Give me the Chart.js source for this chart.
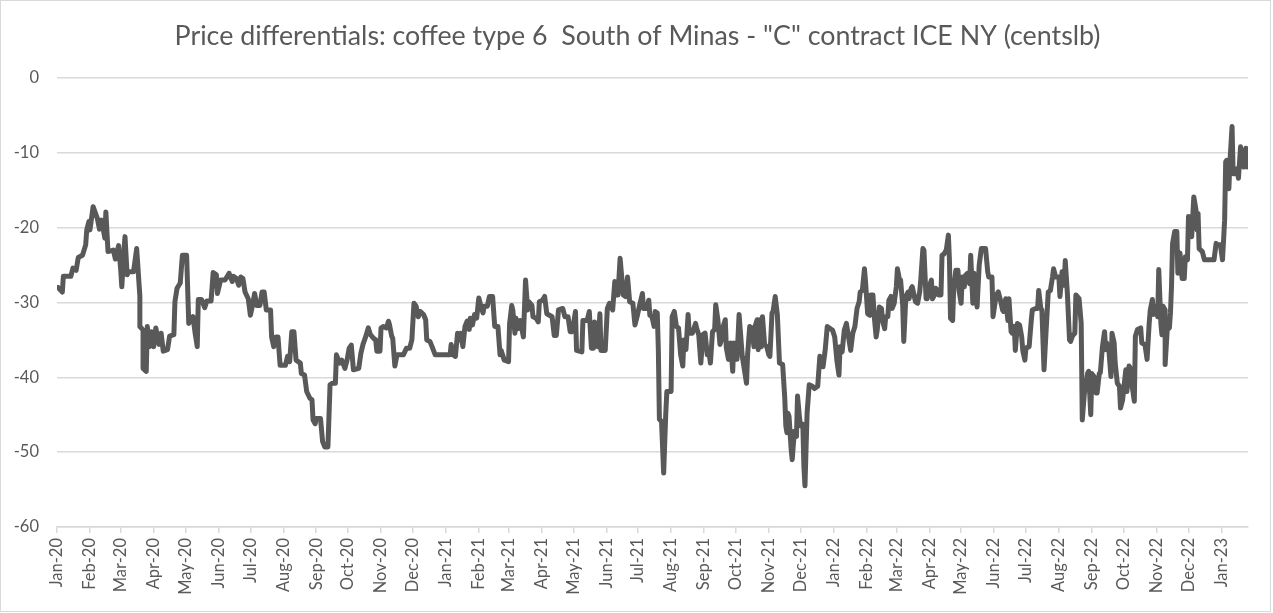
<!DOCTYPE html>
<html><head><meta charset="utf-8">
<script src="https://cdn.jsdelivr.net/npm/chart.js@4/dist/chart.umd.min.js"></script>
<style>
html,body{margin:0;padding:0;background:#fff;}
#wrap{position:absolute;left:0;top:0;width:1269px;height:610px;border:1px solid #d9d9d9;background:#fff;}
</style></head><body>
<div id="wrap"><canvas id="c"></canvas></div>
<script>
const titleText = 'Price differentials: coffee type 6  South of Minas - "C" contract ICE NY (centslb)';
const startDate = Date.UTC(2020, 0, 1);
// day offsets since 1 Jan 2020
const days = [
1,5,6,13,15,18,20,24,27,28,30,31,34,38,40,42,45,46,48,53,55,58,60,61,63,64,66,67,72,75,78,78,81,81,84,85,87,89,91,93,96,98,100,104,106,110,111,113,116,118,122,124,128,130,132,133,136,139,141,145,147,150,151,154,
158,160,162,165,166,169,171,173,175,177,180,182,184,186,188,191,193,195,197,201,202,204,206,208,210,215,217,219,221,223,225,229,230,233,235,238,240,241,243,244,248,250,252,255,257,259,262,263,266,268,271,273,275,277,279,
284,286,288,290,293,295,298,300,301,304,305,307,310,312,313,315,316,318,320,326,329,332,334,336,338,340,342,345,347,348,351,353,356,370,371,373,375,377,379,380,382,384,386,388,389,391,393,395,397,399,401,402,405,407,410,412,415,417,
418,421,425,426,428,429,431,432,434,436,439,441,443,444,447,448,451,453,454,457,459,461,466,468,470,472,476,478,481,483,485,488,489,494,495,499,501,503,505,506,508,509,511,512,516,518,520,523,525,526,528,530,533,535,537,539,542,544,546,548,551,552,555,557,558,
560,562,563,565,566,567,569,571,573,574,578,579,581,583,585,587,589,590,592,594,595,598,601,602,604,606,608,610,612,614,615,617,619,620,622,624,625,627,629,630,632,634,636,637,639,640,642,645,646,649,650,652,654,656,657,659,660,661,663,664,666,668,670,671,673,674,676,678,680,683,685,686,687,688,689,691,692,694,696,697,699,700,702,703,704,706,708,
711,713,716,718,720,721,723,725,730,732,734,736,737,739,741,743,744,746,747,749,751,753,755,756,758,760,761,763,765,766,768,769,771,772,774,776,777,779,780,782,783,785,786,788,790,791,793,794,796,797,799,801,802,804,805,808,810,812,813,815,816,818,819,821,823,824,826,827,829,830,832,833,835,837,839,840,841,
843,844,846,848,849,851,852,854,855,857,859,860,862,863,865,866,868,870,874,876,877,880,881,884,886,888,890,891,893,895,896,898,899,901,902,904,906,908,909,911,912,915,917,918,921,923,924,926,927,929,931,933,935,937,938,940,943,944,946,948,949,951,953,954,956,958,959,962,964,965,967,968,970,971,973,974,976,978,979,981,
982,984,986,987,988,990,992,993,995,996,998,1000,1001,1003,1004,1006,1007,1009,1011,1012,1014,1015,1017,1020,1021,1024,1026,1028,1029,1031,1032,1034,1036,1037,1039,1040,1041,1043,1043,1045,1047,1048,1049,1050,1052,1054,1055,1057,1059,1061,1062,1064,1065,1066,1068,1069,1070,1072,1073,1074,1075,1078,1080,1089,1091,1092,1095,1097,1099,1100,1101,1103,1104,1106,1107,1109,1111,1112,1114,1116,1117,1119,1120
];
// price differential, US cents per lb
const values = [
-28.0,-28.6,-26.5,-26.5,-25.4,-25.7,-24.0,-23.7,-22.3,-20.3,-19.2,-20.3,-17.2,-18.8,-20.2,-19.0,-21.4,-17.9,-23.2,-23.0,-24.2,-22.4,-25.7,-27.9,-23.1,-21.2,-26.3,-25.9,-25.9,-22.8,-29.2,-33.2,-33.7,-38.8,-39.2,-33.2,-35.9,-33.9,-35.9,-33.4,-35.6,-34.1,-36.5,-36.3,-34.5,-34.3,-29.9,-28.1,-27.4,-23.7,-23.7,-32.8,-31.9,-34.1,-35.9,-29.6,-29.6,-30.7,-29.8,-29.8,-26.0,-26.3,-28.8,-27.0,
-27.0,-26.6,-26.1,-27.2,-26.5,-26.8,-27.7,-26.6,-26.8,-28.6,-29.5,-31.7,-30.4,-28.8,-30.4,-30.4,-28.6,-28.6,-31.0,-31.0,-34.6,-35.9,-34.6,-34.6,-38.4,-38.4,-37.2,-37.9,-33.9,-33.9,-37.7,-38.1,-39.5,-39.7,-41.9,-42.8,-43.0,-45.7,-46.2,-45.5,-45.5,-48.6,-49.3,-49.3,-41.0,-40.8,-40.8,-37.0,-38.1,-37.7,-38.8,-37.7,-36.1,-35.7,-39.0,
-38.8,-36.8,-35.6,-34.8,-33.4,-34.3,-34.8,-35.0,-36.5,-36.5,-33.4,-33.2,-33.4,-32.5,-33.0,-34.5,-34.8,-38.5,-37.0,-37.0,-36.1,-36.1,-35.0,-30.1,-30.5,-31.9,-31.2,-31.6,-32.3,-35.0,-35.2,-35.9,-37.0,-37.0,-35.6,-37.0,-37.2,-34.1,-35.0,-34.1,-35.9,-33.2,-32.5,-33.6,-32.1,-33.0,-31.6,-32.1,-29.4,-30.5,-31.4,-30.5,-30.5,-29.2,-29.2,-33.2,-33.2,-37.0,
-36.4,-37.7,-37.9,-32.8,-30.4,-31.0,-34.1,-32.1,-33.5,-32.4,-34.6,-27.0,-31.0,-29.9,-30.4,-31.9,-32.1,-32.6,-29.9,-29.7,-29.2,-31.5,-31.9,-34.4,-34.4,-31.0,-30.8,-31.9,-31.9,-33.9,-33.9,-31.2,-36.4,-36.6,-32.4,-32.4,-31.2,-36.1,-36.1,-32.6,-33.5,-35.9,-31.5,-36.4,-36.4,-30.8,-30.1,-31.0,-27.2,-29.0,-29.0,-24.1,-29.0,-29.2,-26.6,-29.9,-30.1,-33.0,-31.9,-30.6,-28.8,-30.8,-30.8,-29.7,-31.7,
-31.9,-33.2,-31.2,-31.4,-36.3,-45.6,-45.9,-52.8,-44.8,-41.9,-41.9,-31.9,-31.2,-33.2,-33.4,-37.0,-38.5,-35.0,-36.3,-31.6,-34.1,-34.1,-32.8,-33.4,-34.3,-38.1,-34.3,-34.1,-37.0,-37.0,-38.1,-33.9,-33.6,-30.3,-32.3,-35.6,-35.2,-33.2,-32.3,-36.1,-37.6,-35.4,-39.2,-35.4,-37.6,-37.6,-31.6,-37.2,-38.1,-40.8,-37.0,-33.2,-33.4,-35.9,-33.2,-32.3,-36.3,-32.3,-35.9,-31.9,-35.6,-35.9,-37.0,-37.2,-31.4,-31.2,-29.2,-31.6,-38.1,-38.3,-42.8,-46.5,-47.4,-44.8,-45.2,-49.6,-51.0,-47.2,-47.9,-42.5,-45.6,-46.5,-46.3,-51.9,-54.5,-44.8,-41.0,
-41.2,-41.5,-41.2,-37.2,-37.7,-38.6,-36.4,-33.2,-33.7,-34.6,-37.7,-39.7,-35.9,-36.6,-33.7,-32.8,-33.7,-35.5,-36.4,-34.1,-33.2,-30.8,-29.9,-28.6,-28.4,-25.5,-27.2,-31.5,-31.7,-29.0,-29.0,-31.5,-34.6,-33.7,-30.6,-30.8,-32.4,-33.5,-31.9,-31.9,-29.7,-29.2,-30.8,-30.1,-27.9,-25.5,-27.0,-27.0,-30.4,-35.2,-29.2,-28.6,-29.5,-28.1,-27.9,-29.9,-30.1,-28.6,-27.0,-22.8,-23.0,-29.5,-29.5,-27.9,-27.0,-29.5,-29.0,-28.1,-28.4,-29.0,-29.0,-23.7,-23.5,-23.0,-21.0,-24.4,-32.1,
-32.4,-28.1,-25.7,-25.7,-28.4,-30.1,-26.6,-27.9,-26.4,-26.1,-27.5,-23.7,-30.1,-26.1,-28.8,-30.6,-25.0,-22.8,-22.8,-25.9,-26.6,-26.6,-31.9,-29.0,-28.6,-29.7,-31.0,-31.2,-29.5,-32.4,-29.5,-33.9,-34.1,-33.2,-36.4,-32.8,-33.0,-34.6,-36.4,-37.7,-36.1,-35.9,-32.4,-31.0,-30.8,-30.8,-28.4,-30.8,-31.0,-39.0,-33.7,-28.6,-28.4,-26.6,-25.5,-26.6,-26.6,-29.2,-25.9,-27.7,-24.4,-28.8,-35.0,-35.2,-34.4,-34.1,-29.0,-29.5,-32.8,-45.7,-42.1,-41.5,-39.5,-39.2,-45.0,-39.5,-39.9,-42.1,-42.1,-39.5,
-39.4,-35.9,-33.9,-36.3,-35.4,-36.3,-39.9,-34.1,-35.4,-38.1,-40.8,-41.2,-44.1,-43.0,-41.6,-39.0,-41.9,-38.5,-39.0,-41.2,-43.2,-34.5,-33.6,-33.4,-35.4,-35.6,-37.6,-32.8,-31.0,-29.6,-31.6,-30.5,-31.9,-25.6,-32.8,-34.3,-30.5,-31.0,-38.3,-33.6,-33.4,-31.4,-27.9,-22.1,-20.5,-20.5,-26.1,-23.4,-26.8,-26.8,-23.9,-24.3,-18.5,-20.3,-21.2,-18.5,-15.9,-17.6,-20.3,-18.1,-22.8,-23.2,-24.3,-24.3,-22.1,-22.3,-22.3,-24.3,-19.0,-11.2,-11.0,-14.8,-11.2,-6.5,-12.8,-12.8,-12.1,-13.4,-9.2,-11.4,-11.9,-9.4,-11.9
];
const tickLabels = [
'Jan-20','Feb-20','Mar-20','Apr-20','May-20','Jun-20','Jul-20','Aug-20','Sep-20','Oct-20','Nov-20','Dec-20',
'Jan-21','Feb-21','Mar-21','Apr-21','May-21','Jun-21','Jul-21','Aug-21','Sep-21','Oct-21','Nov-21','Dec-21',
'Jan-22','Feb-22','Mar-22','Apr-22','May-22','Jun-22','Jul-22','Aug-22','Sep-22','Oct-22','Nov-22','Dec-22',
'Jan-23'
];
const yMin = -60, yMax = 0, yStep = 10;
const xMaxDay = 1121;

const monthDays = tickLabels.map((_, i) =>
  (Date.UTC(2020 + Math.floor(i / 12), i % 12, 1) - startDate) / 86400000);

const grey = '#595959';
const gridGrey = '#d9d9d9';
const fontFam = 'Lato, "Open Sans", sans-serif';

new Chart(document.getElementById('c'), {
  type: 'line',
  data: {
    datasets: [{
      data: days.map((d, i) => ({ x: d, y: values[i] })),
      borderColor: grey,
      borderWidth: 5,
      pointRadius: 0,
      tension: 0,
      fill: false,
      borderJoinStyle: 'round',
      borderCapStyle: 'round'
    }]
  },
  options: {
    responsive: true,
    maintainAspectRatio: false,
    animation: false,
    layout: { padding: { left: 4, right: 0, top: 0, bottom: 0 } },
    plugins: {
      legend: { display: false },
      tooltip: { enabled: false },
      title: {
        display: true,
        text: titleText,
        color: grey,
        font: { family: fontFam, size: 26.8, weight: 'normal', lineHeight: 1.2 },
        padding: { top: 19.5, bottom: 25.3 }
      }
    },
    scales: {
      x: {
        type: 'linear',
        min: 0,
        max: xMaxDay,
        afterBuildTicks: s => { s.ticks = monthDays.map(v => ({ value: v })); },
        afterFit: s => { s.height = 84; },
        ticks: {
          autoSkip: false,
          minRotation: 90,
          maxRotation: 90,
          color: grey,
          font: { family: fontFam, size: 16.5 },
          padding: 5,
          callback: (v, i) => tickLabels[i]
        },
        grid: { drawOnChartArea: false, drawTicks: true, tickLength: 6, color: gridGrey, lineWidth: 1.5 },
        border: { display: true, color: gridGrey, width: 1.5 }
      },
      y: {
        min: yMin,
        max: yMax,
        afterFit: s => { s.width = 52; },
        ticks: {
          stepSize: yStep,
          color: grey,
          font: { family: fontFam, size: 16.5 },
          padding: 18
        },
        grid: { color: gridGrey, lineWidth: 1.5, drawTicks: false },
        border: { display: false }
      },
      yRight: {
        position: 'right',
        display: true,
        min: yMin,
        max: yMax,
        afterFit: s => { s.width = 22; },
        ticks: { display: false },
        grid: { display: false, drawTicks: false },
        border: { display: false }
      }
    }
  }
});
</script>
</body></html>
